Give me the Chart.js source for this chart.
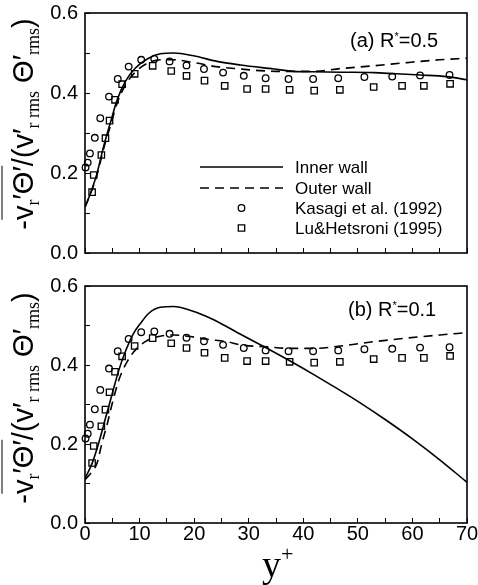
<!DOCTYPE html>
<html>
<head>
<meta charset="utf-8">
<script src="https://cdn.jsdelivr.net/npm/chart.js@4.4.0/dist/chart.umd.min.js"></script>
<style>
  body { margin: 0; background: #fff; }
  #wrap { position: relative; width: 478px; height: 585px; overflow: hidden; }
  canvas { position: absolute; left: 0; }
  .ytitle {
    position: absolute; white-space: nowrap; color: #000;
    font: 29px 'Liberation Sans', Arial, sans-serif; line-height: 1;
    transform: translate(-50%, -50%) rotate(-90deg);
  }
  .ytitle sub { font-family: 'Liberation Serif', serif; font-size: 18px; vertical-align: -6px; }
  .ov { border-top: 1.5px solid #000; padding-top: 4px; }
  .note { position: absolute; font: 20px 'Liberation Sans', Arial, sans-serif; line-height: 20px; color: #000; white-space: nowrap; }
  .note sup { font-size: 11px; vertical-align: 7px; }
  .xtitle { position: absolute; font: 38px 'Liberation Serif', serif; line-height: 1; color: #000; }
  .xtitle sup { font-size: 22px; vertical-align: 16px; }
</style>
</head>
<body>
<div id="wrap">
  <canvas id="chartA" width="478" height="262" style="top:0"></canvas>
  <canvas id="chartB" width="478" height="315" style="top:270px"></canvas>
  <div class="ytitle" style="left:25px;top:124px">-<span class="ov">v<sub>r</sub>′Θ′</span>/(v′<sub>r rms</sub> Θ′<sub>rms</sub>)</div>
  <div class="ytitle" style="left:25px;top:398px">-<span class="ov">v<sub>r</sub>′Θ′</span>/(v′<sub>r rms</sub> Θ′<sub>rms</sub>)</div>
  <div class="note" style="left:350px;top:26px">(a) R<sup>*</sup>=0.5</div>
  <div class="note" style="left:348px;top:295px">(b) R<sup>*</sup>=0.1</div>
  <div class="xtitle" style="left:262px;top:543px">y<sup>+</sup></div>
</div>
<script>
// tick labels
const xTickLabels = [0, 10, 20, 30, 40, 50, 60, 70];
const yTickLabels = ['0.0', '0.2', '0.4', '0.6'];

// experiments (same in both panels)
const kasagiX = [0.1, 0.5, 0.9, 1.8, 2.8, 4.4, 6.0, 8.0, 10.3, 12.7, 15.5, 18.6, 21.8, 25.3, 29.1, 33.1, 37.3, 41.8, 46.4, 51.2, 56.3, 61.4, 66.8];
const kasagiY = [0.214, 0.226, 0.249, 0.288, 0.337, 0.391, 0.435, 0.466, 0.483, 0.485, 0.479, 0.469, 0.460, 0.451, 0.443, 0.437, 0.435, 0.435, 0.437, 0.440, 0.441, 0.444, 0.445];
const luX = [1.3, 1.6, 3.0, 3.75, 4.5, 5.5, 6.8, 9.1, 12.4, 15.8, 18.6, 21.9, 25.6, 29.7, 33.1, 37.5, 42.0, 46.7, 52.9, 58.1, 62.1, 66.9];
const luY = [0.152, 0.195, 0.245, 0.287, 0.331, 0.383, 0.422, 0.448, 0.468, 0.455, 0.443, 0.431, 0.418, 0.410, 0.410, 0.408, 0.406, 0.408, 0.415, 0.418, 0.418, 0.423];

// (a) R*=0.5
const innerAX = [0, 1.0, 2.2, 3.4, 4.7, 5.9, 7.4, 9.2, 11.4, 13.8, 16.3, 19.9, 24.2, 28.5, 34.6, 38.2, 41.9, 47, 52.9, 57, 61.4, 66.3, 70];
const innerAY = [0.115, 0.149, 0.199, 0.266, 0.328, 0.383, 0.429, 0.462, 0.485, 0.498, 0.500, 0.493, 0.479, 0.470, 0.460, 0.454, 0.453, 0.452, 0.451, 0.448, 0.445, 0.441, 0.433];
const outerAX = [0, 1.0, 2.2, 3.4, 4.7, 5.9, 7.4, 9.2, 11.4, 13.8, 16.0, 20.0, 24.0, 28.5, 32.0, 36.0, 42.0, 46.8, 52.9, 59.0, 65.0, 70];
const outerAY = [0.115, 0.148, 0.195, 0.260, 0.320, 0.375, 0.420, 0.452, 0.474, 0.483, 0.483, 0.476, 0.466, 0.460, 0.456, 0.454, 0.454, 0.461, 0.468, 0.476, 0.483, 0.487];

// (b) R*=0.1
const innerBX = [0, 1.3, 2.5, 3.75, 5.0, 6.2, 7.4, 8.9, 10.2, 11.7, 13.8, 16.3, 18.7, 22.4, 26.0, 28.5, 33.0, 37.6, 42.0, 46.0, 50.0, 55.0, 60.0, 65.0, 70];
const innerBY = [0.113, 0.151, 0.202, 0.265, 0.328, 0.387, 0.434, 0.480, 0.506, 0.531, 0.546, 0.548, 0.541, 0.522, 0.497, 0.478, 0.445, 0.410, 0.375, 0.342, 0.308, 0.262, 0.213, 0.160, 0.103];
const outerBX = [0, 1.3, 2.2, 3.1, 4.1, 5.0, 6.2, 7.7, 9.5, 11.4, 13.8, 16.3, 19.3, 22.4, 26.0, 28.5, 33.4, 37.6, 41.9, 46.8, 52.9, 58.9, 65.0, 70];
const outerBY = [0.110, 0.130, 0.151, 0.202, 0.252, 0.303, 0.362, 0.408, 0.442, 0.462, 0.473, 0.476, 0.472, 0.465, 0.459, 0.451, 0.446, 0.442, 0.442, 0.448, 0.459, 0.468, 0.476, 0.482];

function pts(xs, ys) {
    return xs.map((x, i) => ({ x: x, y: ys[i] }));
}

function lineSet(label, xs, ys, dash) {
    return {
        label: label, data: pts(xs, ys), showLine: true,
        borderColor: '#000', borderWidth: 1.6, borderDash: dash,
        pointRadius: 0, cubicInterpolationMode: 'monotone'
    };
}

function markSet(label, xs, ys, style, r) {
    return {
        label: label, data: pts(xs, ys), showLine: false, clip: false,
        pointStyle: style, pointRadius: r, borderColor: '#000',
        backgroundColor: 'rgba(0,0,0,0)', pointBorderWidth: 1.3
    };
}

// frame round the plot area
const framePlugin = {
    id: 'frame',
    afterDraw(chart) {
        const a = chart.chartArea, ctx = chart.ctx;
        ctx.save();
        ctx.strokeStyle = '#000';
        ctx.lineWidth = 1.6;
        ctx.strokeRect(a.left, a.top, a.right - a.left, a.bottom - a.top);
        ctx.restore();
    }
};

// legend inside panel (a)
const legendPlugin = {
    id: 'innerLegend',
    afterDraw(chart) {
        const ctx = chart.ctx;
        const x0 = 200, x1 = 283, tx = 295;
        const rows = [
            { text: 'Inner wall', kind: 'line', dash: [], y: 167 },
            { text: 'Outer wall', kind: 'line', dash: [9, 6], y: 188 },
            { text: 'Kasagi et al. (1992)', kind: 'circle', y: 208 },
            { text: 'Lu&Hetsroni (1995)', kind: 'rect', y: 228 }
        ];
        ctx.save();
        ctx.strokeStyle = '#000';
        ctx.fillStyle = '#000';
        ctx.font = '17px "Liberation Sans", Arial, sans-serif';
        ctx.textBaseline = 'middle';
        rows.forEach(r => {
            const cx = (x0 + x1) / 2;
            ctx.beginPath();
            if (r.kind === 'line') {
                ctx.lineWidth = 1.6;
                ctx.setLineDash(r.dash);
                ctx.moveTo(x0, r.y);
                ctx.lineTo(x1, r.y);
            } else if (r.kind === 'circle') {
                ctx.lineWidth = 1.3;
                ctx.setLineDash([]);
                ctx.arc(cx, r.y, 3.3, 0, Math.PI * 2);
            } else {
                ctx.lineWidth = 1.3;
                ctx.setLineDash([]);
                ctx.rect(cx - 3.2, r.y - 3.2, 6.4, 6.4);
            }
            ctx.stroke();
            ctx.fillText(r.text, tx, r.y + 1);
        });
        ctx.restore();
    }
};

function makeChart(id, datasets, opts) {
    return new Chart(document.getElementById(id), {
        type: 'scatter',
        data: { datasets: datasets },
        options: {
            responsive: false,
            animation: false,
            events: [],
            layout: { autoPadding: false, padding: { left: 0, right: 11, top: opts.top, bottom: 0 } },
            plugins: { legend: { display: false }, tooltip: { enabled: false } },
            scales: {
                x: {
                    type: 'linear', min: 0, max: 70,
                    afterFit: s => { s.height = opts.xHeight; s.paddingLeft = 0; s.paddingRight = 0; },
                    border: { display: false },
                    grid: { drawOnChartArea: false, tickLength: -5, color: '#000', lineWidth: 1 },
                    ticks: {
                        stepSize: 5, padding: 4, color: '#000', maxRotation: 0, autoSkip: false,
                        font: { family: 'Liberation Sans', size: 20 },
                        callback: v => (opts.xLabels && xTickLabels.includes(v)) ? String(v) : ''
                    }
                },
                y: {
                    type: 'linear', min: 0, max: 0.6,
                    afterFit: s => { s.width = 85; s.paddingTop = 0; s.paddingBottom = 0; },
                    border: { display: false },
                    grid: { drawOnChartArea: false, tickLength: -5, color: '#000', lineWidth: 1 },
                    ticks: {
                        stepSize: 0.1, padding: 12, color: '#000', autoSkip: false,
                        font: { family: 'Liberation Sans', size: 20 },
                        callback: v => {
                            const s = v.toFixed(1);
                            return yTickLabels.includes(s) ? s : '';
                        }
                    }
                }
            }
        },
        plugins: opts.legend ? [framePlugin, legendPlugin] : [framePlugin]
    });
}

makeChart('chartA', [
    lineSet('Inner wall', innerAX, innerAY, []),
    lineSet('Outer wall', outerAX, outerAY, [9, 6]),
    markSet('Kasagi et al. (1992)', kasagiX, kasagiY, 'circle', 3.3),
    markSet('Lu&Hetsroni (1995)', luX, luY, 'rect', 4.5)
], { top: 13, xHeight: 9, xLabels: false, legend: true });

makeChart('chartB', [
    lineSet('Inner wall', innerBX, innerBY, []),
    lineSet('Outer wall', outerBX, outerBY, [9, 6]),
    markSet('Kasagi et al. (1992)', kasagiX, kasagiY, 'circle', 3.3),
    markSet('Lu&Hetsroni (1995)', luX, luY, 'rect', 4.5)
], { top: 16, xHeight: 62, xLabels: true, legend: false });
</script>
</body>
</html>
